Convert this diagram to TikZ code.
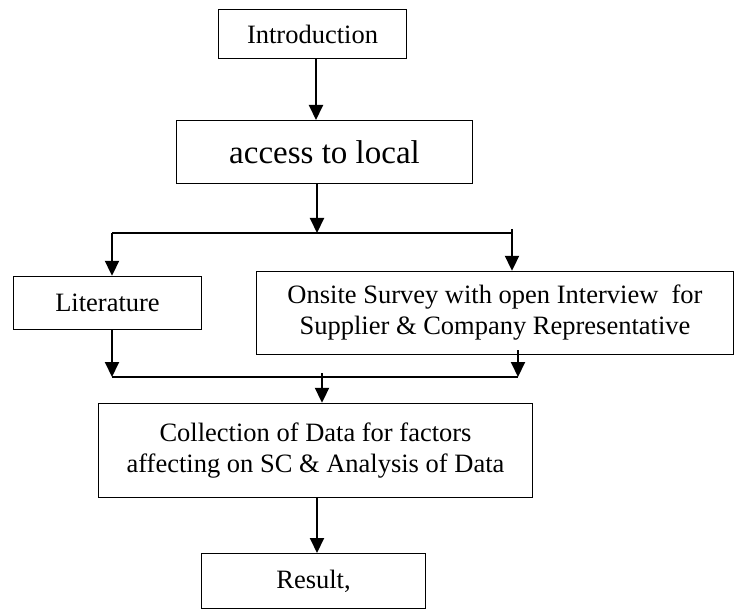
\documentclass[tikz,border=0pt]{standalone}
\usepackage{fontspec}
\setmainfont{Liberation Serif}
\usepackage{tikz}
\usetikzlibrary{arrows.meta}
\tikzstyle{flowbox}=[rectangle,draw=black,line width=1.4pt,
                     inner sep=0pt,align=center,
                     font=\fontsize{26.5}{31}\selectfont]
\tikzstyle{flowarrow}=[line width=2pt,
                       -{Triangle[length=15pt,width=14pt]}]
\tikzstyle{flowline}=[line width=1.8pt]

\begin{document}
\begin{tikzpicture}[x=1pt,y=1pt]
    \useasboundingbox (0,0) rectangle (741,-612);
    \node (intro) at (312.5,-34) [flowbox,minimum width=188pt,minimum height=49pt]{Introduction};
    \node (access) at (324.5,-152) [flowbox,minimum width=296pt,minimum height=63pt,
                                    font=\fontsize{33}{38}\selectfont]{access to local};
    \node (lit) at (107.5,-303) [flowbox,minimum width=188pt,minimum height=53pt]{Literature};
    \node (onsite) at (495,-313) [flowbox,minimum width=477pt,minimum height=83pt]
        {Onsite Survey with open Interview\ \ for\\Supplier \& Company Representative};
    \node (coll) at (315.5,-450.5) [flowbox,minimum width=434pt,minimum height=94pt]
        {Collection of Data for factors\\affecting on SC \& Analysis of Data};
    \node (result) at (313.5,-581) [flowbox,minimum width=224pt,minimum height=55pt]{Result,};
    % split and join lines
    \coordinate (splitL) at (112,-233);
    \coordinate (splitM) at (317,-233);
    \coordinate (splitR) at (512,-233);
    \coordinate (joinL) at (112,-377);
    \coordinate (joinM) at (322,-377);
    \coordinate (joinR) at (518,-377);
    \draw[flowarrow] (316,-59) -- (316,-120);
    \draw[flowarrow] (access.south -| splitM) -- (splitM);
    \draw[flowline] (splitL) -- (splitR);
    \draw[flowarrow] (splitL) -- (splitL |- lit.north);
    \draw[flowarrow] ([yshift=4pt]splitR) -- (splitR |- onsite.north);
    \draw[flowarrow] (lit.south -| joinL) -- (joinL);
    \draw[flowarrow] ([yshift=5pt]onsite.south -| joinR) -- (joinR);
    \draw[flowline] (joinL) -- (joinR);
    \draw[flowarrow] ([yshift=4pt]joinM) -- (joinM |- coll.north);
    \draw[flowarrow] (coll.south -| 317,0) -- (317,-553);
  \end{tikzpicture}
\end{document}
